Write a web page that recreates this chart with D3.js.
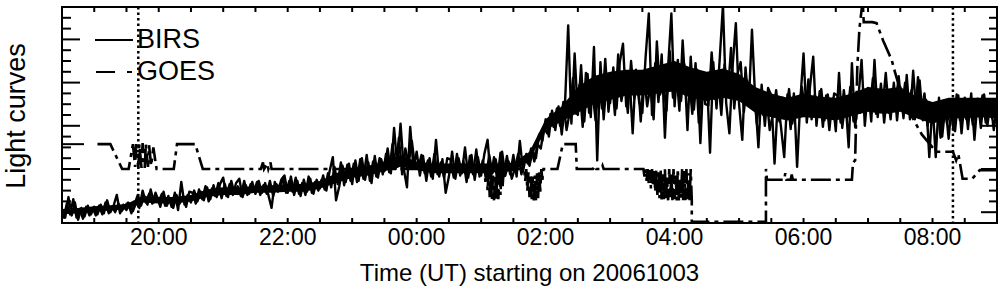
<!DOCTYPE html>
<html>
<head>
<meta charset="utf-8">
<script src="https://cdn.jsdelivr.net/npm/d3@7"></script>
<style>
  body { margin: 0; background: #fff; }
  svg { display: block; }
  text { font-family: "Liberation Sans", Arial, Helvetica, sans-serif; fill: #000; }
</style>
</head>
<body>
<div id="chart"></div>
<script>
var width = 1004;
var height = 296;
var margin = {top: 7, right: 7, bottom: 73, left: 62};

// BIRS light curve, readings every 3 minutes from 18:30 UT (set A)
// and every 3 minutes from 18:31:30 UT (set B)
var birsStart = "18:30";
var birsStep = 3;
var birsValues = [
  0.1,-0.5,1.4,-0.3,0.9,-0.7,0.4,-0.4,0.6,-0.2,
  0.5,-0.2,0.7,-0.1,1.1,0.0,0.6,1.6,-0.1,0.7,
  0.2,0.8,0.1,0.9,0.4,2.0,0.9,1.7,0.8,1.8,
  1.0,1.7,0.6,1.5,0.5,1.8,0.2,2.8,0.7,1.6,
  0.9,2.0,1.0,1.9,1.1,2.3,1.2,2.5,1.4,2.6,
  3.2,1.5,2.6,1.6,2.7,3.1,1.4,2.5,1.7,2.8,
  1.7,2.9,1.8,2.7,1.6,0.4,2.8,1.9,3.0,3.4,
  1.8,3.3,1.6,2.9,1.5,3.0,1.9,3.1,1.7,3.0,
  2.2,3.4,2.0,3.8,5.1,1.1,2.4,4.3,2.8,4.5,
  2.6,4.8,2.9,5.0,3.0,4.6,2.7,5.2,3.2,4.9,
  3.8,5.9,3.6,7.8,4.2,8.2,4.0,2.3,7.9,4.1,
  5.6,3.4,5.2,2.9,5.0,3.1,6.7,3.3,4.9,1.8,
  3.3,5.6,3.1,5.0,3.6,6.0,3.2,5.3,3.0,5.1,
  3.4,5.4,6.7,3.2,5.1,3.0,5.5,3.3,5.2,3.5,
  5.3,3.3,6.6,3.8,5.4,4.3,5.7,5.0,7.2,6.6,
  8.6,7.0,9.4,7.6,9.8,7.2,9.9,17.3,8.2,14.7,
  9.0,13.6,8.4,12.8,8.8,15.3,4.8,13.9,8.6,12.5,
  10.1,13.4,9.6,13.9,15.6,9.8,12.7,7.3,13.2,10.2,
  9.2,14.3,18.4,9.0,13.8,10.2,14.6,6.9,13.5,18.4,
  9.8,14.1,10.3,13.7,7.6,14.4,9.5,13.2,6.4,12.9,
  12.6,5.5,13.9,9.6,14.2,19.2,10.1,7.3,13.5,17.5,
  10.0,6.7,13.4,9.9,16.9,10.5,6.0,11.8,8.0,11.5,
  10.8,4.5,10.3,7.9,5.1,10.9,7.7,11.0,4.2,10.4,
  14.7,8.3,11.6,14.4,8.0,11.2,7.9,10.8,7.6,10.5,
  7.5,12.9,7.8,10.4,6.0,13.8,7.9,10.6,14.1,8.0,
  11.5,8.4,14.1,8.8,11.9,8.3,11.2,8.6,12.0,8.5,
  11.6,8.7,12.7,8.6,13.1,9.0,12.2,8.5,10.4,5.1,
  10.1,5.1,10.6,7.0,9.9,6.8,10.2,7.5,10.8,7.3,
  10.6,7.7,11.0,6.7,10.5,7.8,10.9,8.0,10.2,7.6,
  9.9
];
var birsOffsetB = 90; // seconds
var birsValuesB = [
  -0.6,0.8,-0.2,1.2,-0.5,0.3,-0.6,0.5,-0.3,0.4,
  -0.3,0.6,-0.2,0.9,-0.1,0.5,0.0,0.8,0.1,0.6,
  0.9,-0.1,0.7,1.6,0.6,1.5,0.7,2.1,0.9,1.4,
  0.5,1.9,0.6,1.3,0.4,1.6,0.8,1.5,0.5,1.9,
  1.8,0.8,2.1,1.2,2.4,1.0,2.2,1.5,2.7,1.3,
  2.6,1.4,2.9,1.7,2.4,1.5,2.9,1.6,2.6,1.9,
  2.8,1.6,2.5,1.7,2.9,1.5,2.6,2.0,3.2,1.8,
  2.9,1.9,3.2,1.7,2.7,1.6,3.3,1.8,2.8,2.0,
  3.0,2.1,3.6,2.3,4.2,2.6,4.6,2.5,4.4,2.9,
  4.5,2.8,4.9,3.1,5.3,2.9,4.7,3.3,5.0,3.5,
  5.4,3.7,6.3,4.0,6.9,3.5,5.9,4.4,6.6,4.2,
  4.1,5.3,3.6,4.8,3.3,5.4,3.5,4.6,3.2,5.0,
  4.9,3.2,5.4,3.4,4.7,2.8,5.2,3.5,5.8,3.3,
  4.8,3.1,5.3,3.6,4.9,3.2,5.6,3.4,4.7,3.1,
  4.1,5.4,3.5,5.1,4.5,5.9,4.7,6.3,5.9,7.8,
  7.3,9.1,7.9,9.6,8.0,10.2,7.6,9.3,12.4,9.1,
  11.8,7.9,12.9,9.2,11.2,8.5,12.0,9.6,14.2,9.3,
  12.6,9.0,14.6,10.3,12.1,9.2,14.0,10.5,12.8,8.4,
  12.9,9.8,11.7,8.6,15.8,10.9,12.0,9.4,14.9,10.6,
  13.2,9.4,15.9,10.8,12.3,9.1,13.8,8.3,12.5,10.0,
  9.9,14.8,10.5,12.6,9.0,13.7,10.8,15.2,9.6,12.8,
  13.9,9.3,12.2,9.8,11.6,8.2,11.0,9.0,10.9,7.6,
  9.1,11.3,8.4,10.6,8.9,11.4,8.2,10.0,9.3,11.6,
  9.2,12.3,8.6,10.9,9.0,11.4,8.5,10.9,8.8,11.0,
  10.8,8.3,11.3,8.7,11.6,8.4,10.7,9.2,11.4,9.6,
  9.4,12.4,9.1,11.0,9.6,12.9,9.2,11.4,9.7,12.6,
  9.5,12.0,9.8,11.3,8.6,12.5,9.1,11.0,8.0,10.1,
  8.4,9.7,6.9,10.3,8.2,9.8,7.6,10.9,8.5,10.0,
  8.6,10.3,8.1,9.9,8.9,10.8,8.3,10.1,8.7,10.2
];

// solid middle of the BIRS noise band, every 15 minutes from 18:30 UT
var coreStep = 15;
var birsCoreLow = [
  -0.2,-0.1,0.05,0.15,0.25,0.9,0.8,0.8,1.0,1.4,
  1.6,1.6,1.8,1.8,1.9,1.9,2.2,2.7,3.2,3.4,
  3.8,4.2,3.9,3.6,3.6,3.6,3.6,3.7,3.8,4.8,
  7.6,8.4,9.2,10.0,10.4,10.8,10.8,11.0,11.2,10.6,
  10.3,10.6,10.3,9.2,8.8,8.5,8.8,8.7,8.5,8.9,
  9.3,9.1,9.3,8.7,8.2,8.7,8.7,8.8,8.7
];
var birsCoreHigh = [
  0.3,0.4,0.55,0.65,0.75,1.5,1.4,1.4,1.6,2.1,
  2.3,2.3,2.4,2.5,2.6,2.6,2.9,3.6,4.1,4.3,
  4.7,5.3,4.7,4.5,4.5,4.5,4.5,4.5,4.6,5.6,
  8.6,9.8,11.6,12.6,13.0,13.2,13.2,13.6,14.0,13.4,
  13.0,13.3,12.8,11.6,11.0,10.6,11.0,10.7,10.6,11.0,
  11.6,11.4,11.6,10.7,10.2,10.6,10.6,10.6,10.6
];

// GOES light curve, read at its break points
var goesTimes = [
  "19:03","19:15","19:26","19:32","19:36","19:38","19:39","19:41","19:42","19:44",
  "19:45","19:47","19:48","19:50","19:51","19:53","19:55","19:58","20:14","20:17",
  "20:34","20:41","21:35","21:37","21:38","21:41","21:42","21:44","21:45",
  "01:03","01:04","01:05","01:06","01:07","01:08","01:09","01:10","01:11","01:12",
  "01:13","01:14","01:15","01:16","01:17","01:18","01:19","01:20","01:21","01:22","01:23",
  "01:40","01:41","01:42","01:43","01:44","01:45","01:46","01:47","01:48","01:49",
  "01:50","01:51","01:52","01:53","01:54","01:55","01:56","01:57","01:58",
  "02:11","02:16","02:28","02:29","02:44","02:46","02:47","02:52","02:53","02:54",
  "03:31","03:32","03:33","03:34","03:35","03:36","03:37","03:38","03:39","03:40",
  "03:41","03:42","03:43","03:44","03:45","03:46","03:47","03:48","03:49","03:50",
  "03:51","03:52","03:53","03:54","03:55","03:56","03:57","03:58","03:59","04:00",
  "04:01","04:02","04:03","04:04","04:05","04:06","04:07","04:08","04:09","04:10",
  "04:11","04:12","04:13","04:14","04:15","04:16","04:16","05:25","05:25","05:26",
  "05:42","05:43","05:44","05:48","05:49","05:50","06:45","06:46","06:48","06:50",
  "06:52","06:55","06:56","07:04","07:08","07:14","07:22","07:25","07:30","07:40",
  "07:50","08:00","08:04","08:19","08:22","08:24","08:28","08:37","08:44","09:00"
];
var goesFlux = [
  6.3,6.3,4.0,4.0,6.3,4.2,6.3,4.1,6.3,4.1,
  6.4,4.1,6.3,4.2,6.2,4.3,6.0,4.0,4.0,6.3,
  6.3,4.0,4.0,4.6,4.0,4.5,4.0,4.6,4.0,
  4.0,2.8,4.0,2.0,3.8,1.4,3.6,1.1,3.4,1.1,
  3.5,1.1,3.7,1.2,3.8,1.6,4.0,2.4,4.0,3.2,4.0,
  4.0,2.9,4.0,2.0,3.7,1.4,3.5,1.1,3.3,1.1,
  3.4,1.1,3.6,1.3,3.8,1.9,4.0,3.0,4.0,
  4.0,6.3,6.3,4.0,4.0,4.3,4.0,4.0,4.3,4.0,
  4.0,3.3,4.0,2.9,4.0,2.6,3.9,2.2,4.0,2.4,
  3.8,1.9,4.0,1.6,3.7,1.3,4.0,1.1,3.5,1.2,
  4.0,1.1,3.2,1.1,4.0,1.4,3.6,1.1,4.0,1.2,
  3.4,1.1,4.0,1.1,3.0,1.3,4.0,1.1,3.8,1.1,
  4.0,1.2,3.6,1.1,4.0,1.1,-0.9,-0.9,4.0,3.0,
  3.0,3.6,3.0,3.0,3.5,3.0,3.0,4.6,4.8,13.4,
  17.0,19.6,17.6,17.6,17.5,15.9,14.1,13.0,11.3,9.0,
  7.2,6.0,5.6,5.6,4.8,5.4,3.1,3.1,3.9,3.9
];

var eventTimes = ["19:41", "08:19"];
var extraLeftTicks = [6.3];

function utc(hm) {
  var p = hm.split(":");
  var h = +p[0];
  return new Date(Date.UTC(2006, 9, h < 12 ? 4 : 3, h, +p[1]));
}

var svg = d3.select("#chart").append("svg")
  .attr("width", width)
  .attr("height", height);

var x0 = margin.left, x1 = width - margin.right;
var y0 = margin.top, y1 = height - margin.bottom;

var x = d3.scaleUtc()
  .domain([utc("18:30"), utc("09:00")])
  .range([x0, x1]);

var y = d3.scaleLinear()
  .domain([-1, 19])
  .range([y1, y0]);

svg.append("defs").append("clipPath")
  .attr("id", "plot")
  .append("rect")
  .attr("x", x0).attr("y", y0)
  .attr("width", x1 - x0).attr("height", y1 - y0);

var birsA = birsValues.map(function(v, i) {
  return {t: d3.utcMinute.offset(utc(birsStart), i * birsStep), v: v};
});
var birsB = birsValuesB.map(function(v, i) {
  return {t: d3.utcSecond.offset(utc(birsStart), birsOffsetB + i * birsStep * 60), v: v};
});
var core = birsCoreLow.map(function(v, i) {
  return {t: d3.utcMinute.offset(utc(birsStart), i * coreStep), lo: v, hi: birsCoreHigh[i]};
});
var goes = goesTimes.map(function(s, i) {
  return {t: utc(s), v: goesFlux[i]};
});

var line = d3.line()
  .x(function(d) { return x(d.t) })
  .y(function(d) { return y(d.v) });

var band = d3.area()
  .x(function(d) { return x(d.t) })
  .y0(function(d) { return y(d.lo) })
  .y1(function(d) { return y(d.hi) });

var data = svg.append("g").attr("clip-path", "url(#plot)");

data.append("path")
  .datum(goes)
  .attr("d", line)
  .attr("fill", "none")
  .attr("stroke", "#000")
  .attr("stroke-width", 2.6)
  .attr("stroke-dasharray", "20,5,4,5");

data.append("path")
  .datum(core)
  .attr("d", band)
  .attr("fill", "#000");

data.selectAll("path.birs")
  .data([birsA, birsB])
  .enter().append("path")
  .attr("class", "birs")
  .attr("d", line)
  .attr("fill", "none")
  .attr("stroke", "#000")
  .attr("stroke-width", 2.4)
  .attr("stroke-linejoin", "round");

// dotted event markers
svg.selectAll("line.event")
  .data(eventTimes)
  .enter().append("line")
  .attr("class", "event")
  .attr("x1", function(d) { return x(utc(d)) })
  .attr("x2", function(d) { return x(utc(d)) })
  .attr("y1", y0)
  .attr("y2", y1)
  .attr("stroke", "#000")
  .attr("stroke-width", 2.5)
  .attr("stroke-dasharray", "2.5,3");

// frame
svg.append("rect")
  .attr("x", x0).attr("y", y0)
  .attr("width", x1 - x0).attr("height", y1 - y0)
  .attr("fill", "none")
  .attr("stroke", "#000")
  .attr("stroke-width", 2);

// x ticks top and bottom
var xt = d3.utcMinute.every(30).range(x.domain()[0], x.domain()[1]);
var ticks = svg.append("g").attr("stroke", "#000").attr("stroke-width", 2);
xt.forEach(function(t) {
  ticks.append("line").attr("x1", x(t)).attr("x2", x(t)).attr("y1", y1).attr("y2", y1 - 5);
  ticks.append("line").attr("x1", x(t)).attr("x2", x(t)).attr("y1", y0).attr("y2", y0 + 5);
});

// y ticks left and right
d3.range(0, 19).forEach(function(v) {
  var major = v % 4 === 0;
  ticks.append("line").attr("x1", x0).attr("x2", x0 + (major ? 18 : 9)).attr("y1", y(v)).attr("y2", y(v));
  ticks.append("line").attr("x1", x1).attr("x2", x1 - (major ? 16 : 8)).attr("y1", y(v)).attr("y2", y(v));
});
extraLeftTicks.forEach(function(v) {
  ticks.append("line").attr("x1", x0).attr("x2", x0 + 22).attr("y1", y(v)).attr("y2", y(v));
});

// tick labels
svg.selectAll("text.xlabel")
  .data(d3.utcHour.every(2).range(x.domain()[0], x.domain()[1]))
  .enter().append("text")
  .attr("class", "xlabel")
  .attr("x", function(d) { return x(d) })
  .attr("y", 245)
  .attr("text-anchor", "middle")
  .attr("font-size", "23px")
  .text(d3.utcFormat("%H:%M"));

svg.append("text")
  .attr("x", (x0 + x1) / 2)
  .attr("y", 281)
  .attr("text-anchor", "middle")
  .attr("font-size", "24px")
  .text("Time (UT) starting on 20061003");

svg.append("text")
  .attr("transform", "translate(25," + ((y0 + y1) / 2 + 1) + ") rotate(-90)")
  .attr("text-anchor", "middle")
  .attr("font-size", "27px")
  .text("Light curves");

// legend
var legend = svg.append("g");
legend.append("line")
  .attr("x1", 95).attr("x2", 133).attr("y1", 40).attr("y2", 40)
  .attr("stroke", "#000").attr("stroke-width", 2);
legend.append("text").attr("x", 137).attr("y", 48).attr("font-size", "27px").text("BIRS");
legend.append("line")
  .attr("x1", 96).attr("x2", 133).attr("y1", 72).attr("y2", 72)
  .attr("stroke", "#000").attr("stroke-width", 2)
  .attr("stroke-dasharray", "19,12,5,12");
legend.append("text").attr("x", 137).attr("y", 80).attr("font-size", "27px").text("GOES");
</script>
</body>
</html>
